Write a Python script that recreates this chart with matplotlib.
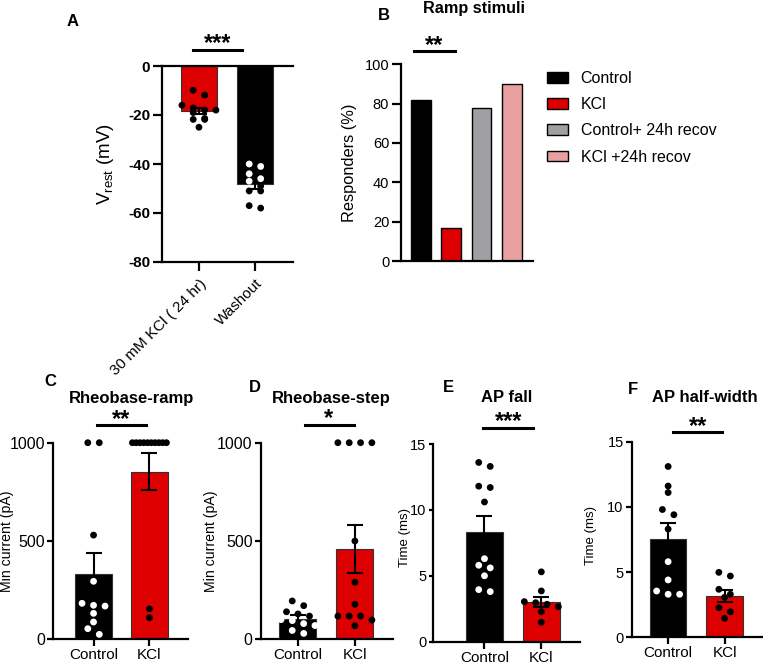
import numpy as np
import matplotlib.pyplot as plt
from matplotlib.lines import Line2D

plt.rcParams['font.family'] = ['Liberation Sans', 'DejaVu Sans']
plt.rcParams['axes.linewidth'] = 1.6
plt.rcParams['axes.unicode_minus'] = False

W, H = 763, 665
BLACK = '#000000'
RED = '#dd0000'
GRAY = '#a0a0a4'
PINK = '#e8a0a1'

# ---- A: resting potential
vrest_groups = ['30 mM KCl ( 24 hr)', 'Washout']
vrest_mean = [-18.2, -48.3]
vrest_sem = [1.2, 1.8]
vrest_kcl = [-9.9, -11.9, -16.0, -17.1, -18.0, -18.0, -19.0, -21.4, -21.8, -21.8, -25.0]
vrest_wash = [-40.0, -41.0, -44.0, -46.0, -47.0, -49.0, -51.0, -51.0, -57.0, -58.0]

# ---- B: ramp responders
ramp_labels = ['Control', 'KCl', 'Control+ 24h recov', 'KCl +24h recov']
ramp_pct = [82, 17, 78, 90]

# ---- C: rheobase ramp
groups = ['Control', 'KCl']
rr_mean = [330, 853]
rr_sem = [110, 96]
rr_ctrl = [1000, 1000, 530, 295, 183, 173, 169, 132, 88, 54, 25]
rr_kcl = [1000] * 10 + [155, 110]

# ---- D: rheobase step
rs_mean = [105, 457]
rs_sem = [17, 122]
rs_ctrl = [195, 171, 140, 129, 118, 100, 95, 80, 70, 45, 30]
rs_kcl = [1000, 1000, 1000, 1000, 500, 290, 178, 118, 118, 118, 98, 69]

# ---- E: AP fall
fall_mean = [8.35, 3.04]
fall_sem = [1.19, 0.38]
fall_ctrl = [13.3, 13.6, 11.8, 11.7, 10.6, 6.3, 5.8, 5.6, 5.0, 3.8, 3.95]
fall_kcl = [5.3, 3.85, 3.04, 2.66, 2.96, 2.84, 2.28, 1.47]

# ---- F: AP half-width
hw_mean = [7.56, 3.18]
hw_sem = [1.18, 0.45]
hw_ctrl = [13.1, 11.6, 11.1, 9.8, 9.4, 8.3, 5.8, 4.4, 3.3, 3.55, 3.3]
hw_kcl = [4.98, 4.7, 3.68, 3.3, 3.07, 2.27, 1.96, 1.46]


def add_ax(fig, l, t, r, b):
    return fig.add_axes([l / W, 1 - b / H, (r - l) / W, (b - t) / H])


def ftext(fig, x, y, s, **kw):
    fig.text(x / W, 1 - y / H, s, **kw)


def stars(fig, x, y, s, size=17):
    # place asterisks so that their ink centre sits at (x, y) px
    base = y + size * 100 / 72 * 0.58
    ftext(fig, x, base, s, ha='center', va='baseline', fontsize=size, fontweight='bold')


def sigline(fig, x0, x1, y):
    fig.add_artist(Line2D([x0 / W, x1 / W], [1 - y / H, 1 - y / H], color='black',
                          lw=2.2, transform=fig.transFigure))


def swarm(values, thr, step, max_width):
    values = np.asarray(values, dtype=float)
    order = np.argsort(values)[::-1]
    offs = np.zeros(len(values))
    rows = []
    for i in order:
        if rows and values[rows[-1][0]] - values[i] < thr:
            rows[-1].append(i)
        else:
            rows.append([i])
    for row in rows:
        k = len(row)
        s = step if k == 1 else min(step, max_width / (k - 1))
        for j, i in enumerate(row):
            offs[i] = (j - (k - 1) / 2) * s
    return offs


def bar_dots(ax, means, sems, pts_list, colors, ylim, xlim, tick_len=4, ysize=11.5):
    ax.set_xlim(*xlim)
    ax.set_ylim(*ylim)
    x = np.arange(len(means))
    ax.bar(x, means, width=0.65, color=colors, edgecolor='#333333', linewidth=0.8, zorder=1)
    ax.errorbar(x, means, yerr=sems, fmt='none', ecolor='black', elinewidth=1.5,
                capsize=6, capthick=1.5, zorder=2)
    pos = ax.get_position()
    px_y = pos.height * H / (ylim[1] - ylim[0])
    px_x = pos.width * W / (xlim[1] - xlim[0])
    for xi, pts, m, c in zip(x, pts_list, means, colors):
        pts = np.asarray(pts, dtype=float)
        offs = swarm(pts, 6.5 / px_y, 11.5 / px_x, 34 / px_x)
        inside = (c == BLACK) & (np.abs(pts) <= abs(m))
        fc = np.where(inside, 'white', 'black')
        ax.scatter(xi + offs, pts, s=24, c=fc, edgecolors='none', zorder=3, clip_on=False)
    ax.set_xticks(x)
    for s in ['top', 'right']:
        ax.spines[s].set_visible(False)
    ax.tick_params(axis='y', length=tick_len, width=1.6, pad=2, labelsize=ysize)
    ax.tick_params(axis='x', length=5, width=1.6, pad=1.5, labelsize=11)


fig = plt.figure(figsize=(W / 100, H / 100), dpi=100)

# ---------------- A
axA = add_ax(fig, 162, 66, 293, 262)
bar_dots(axA, vrest_mean, vrest_sem, [vrest_kcl, vrest_wash], [RED, BLACK],
         (-80, 0), (-0.66, 1.68), tick_len=6.5)
axA.spines['top'].set_visible(True)
axA.set_yticks([0, -20, -40, -60, -80])
axA.set_xticklabels(vrest_groups, rotation=45, ha='right', rotation_mode='anchor')
axA.tick_params(axis='x', length=6.5, pad=4)
for lab in axA.get_yticklabels():
    lab.set_fontweight('bold')
    lab.set_fontsize(11)
axA.set_ylabel(r'V$_{\mathregular{rest}}$ (mV)', fontsize=13.5)
axA.yaxis.set_label_coords(-0.351, 0.5)
ftext(fig, 73, 22, 'A', ha='center', va='center', fontsize=12, fontweight='bold')
stars(fig, 217.5, 36, '***')
sigline(fig, 193, 242, 49.7)

# ---------------- B
axB = add_ax(fig, 401, 64.3, 533, 261)
ramp_colors = [BLACK, RED, GRAY, PINK]
for i, (lab, v, c) in enumerate(zip(ramp_labels, ramp_pct, ramp_colors)):
    axB.bar(i, v, width=0.65, color=c, edgecolor='black', linewidth=1.0, label=lab)
axB.set_xlim(-0.66, 3.7)
axB.set_ylim(0, 100)
axB.set_yticks([0, 20, 40, 60, 80, 100])
axB.set_xticks([])
for s in ['top', 'right']:
    axB.spines[s].set_visible(False)
axB.tick_params(axis='y', length=6.5, width=1.6, pad=2, labelsize=10.5)
axB.set_ylabel('Responders (%)', fontsize=11.8)
axB.yaxis.set_label_coords(-0.33, 0.5)
axB.legend(loc='upper left', bbox_to_anchor=(547 / W, 1 - 71 / H), bbox_transform=fig.transFigure,
           frameon=False, fontsize=11.5, handlelength=1.3, handleheight=0.65,
           handletextpad=0.8, labelspacing=0.7, borderpad=0, borderaxespad=0)
ftext(fig, 384, 16, 'B', ha='center', va='center', fontsize=12, fontweight='bold')
ftext(fig, 474, 8, 'Ramp stimuli', ha='center', va='center', fontsize=11.7, fontweight='bold')
stars(fig, 434, 38, '**')
sigline(fig, 414, 455, 51)

# ---------------- C
axC = add_ax(fig, 53.3, 442.7, 188, 639.3)
bar_dots(axC, rr_mean, rr_sem, [rr_ctrl, rr_kcl], [BLACK, RED], (0, 1000), (-0.72, 1.69))
axC.set_yticks([0, 500, 1000])
axC.set_xticklabels(groups)
axC.set_ylabel('Min current (pA)', fontsize=10.2)
axC.yaxis.set_label_coords(-0.295, 0.5)
ftext(fig, 50, 382, 'C', ha='center', va='center', fontsize=12, fontweight='bold')
ftext(fig, 131.7, 399, 'Rheobase-ramp', ha='center', va='center', fontsize=12, fontweight='bold')
stars(fig, 121, 412.5, '**')
sigline(fig, 96.7, 145.7, 425.3)

# ---------------- D
axD = add_ax(fig, 261, 442.7, 393, 639.3)
bar_dots(axD, rs_mean, rs_sem, [rs_ctrl, rs_kcl], [BLACK, RED], (0, 1000), (-0.65, 1.67))
axD.set_yticks([0, 500, 1000])
axD.set_xticklabels(groups)
axD.set_ylabel('Min current (pA)', fontsize=10.2)
axD.yaxis.set_label_coords(-0.324, 0.5)
ftext(fig, 255, 387, 'D', ha='center', va='center', fontsize=12, fontweight='bold')
ftext(fig, 331, 399, 'Rheobase-step', ha='center', va='center', fontsize=12, fontweight='bold')
stars(fig, 329, 411.5, '*')
sigline(fig, 305, 354, 425)

# ---------------- E
axE = add_ax(fig, 433.3, 444, 580, 641.7)
bar_dots(axE, fall_mean, fall_sem, [fall_ctrl, fall_kcl], [BLACK, RED], (0, 15), (-0.9, 1.68),
         tick_len=3, ysize=10.5)
axE.set_yticks([0, 5, 10, 15])
axE.set_xticklabels(groups)
axE.set_ylabel('Time (ms)', fontsize=9.5)
axE.yaxis.set_label_coords(-0.15, 0.527)
ftext(fig, 448, 388, 'E', ha='center', va='center', fontsize=12, fontweight='bold')
ftext(fig, 507, 398, 'AP fall', ha='center', va='center', fontsize=12, fontweight='bold')
stars(fig, 508.5, 414, '***')
sigline(fig, 483, 533, 427.7)

# ---------------- F
axF = add_ax(fig, 632, 441.7, 763, 637.3)
bar_dots(axF, hw_mean, hw_sem, [hw_ctrl, hw_kcl], [BLACK, RED], (0, 15), (-0.64, 1.68),
         ysize=10.5)
axF.set_yticks([0, 5, 10, 15])
axF.set_xticklabels(groups)
axF.set_ylabel('Time (ms)', fontsize=9.5)
axF.yaxis.set_label_coords(-0.267, 0.523)
ftext(fig, 633, 390, 'F', ha='center', va='center', fontsize=12, fontweight='bold')
ftext(fig, 705, 398, 'AP half-width', ha='center', va='center', fontsize=12, fontweight='bold')
stars(fig, 698.5, 419, '**')
sigline(fig, 673, 722, 431.7)

fig.savefig('out.png', dpi=100)
